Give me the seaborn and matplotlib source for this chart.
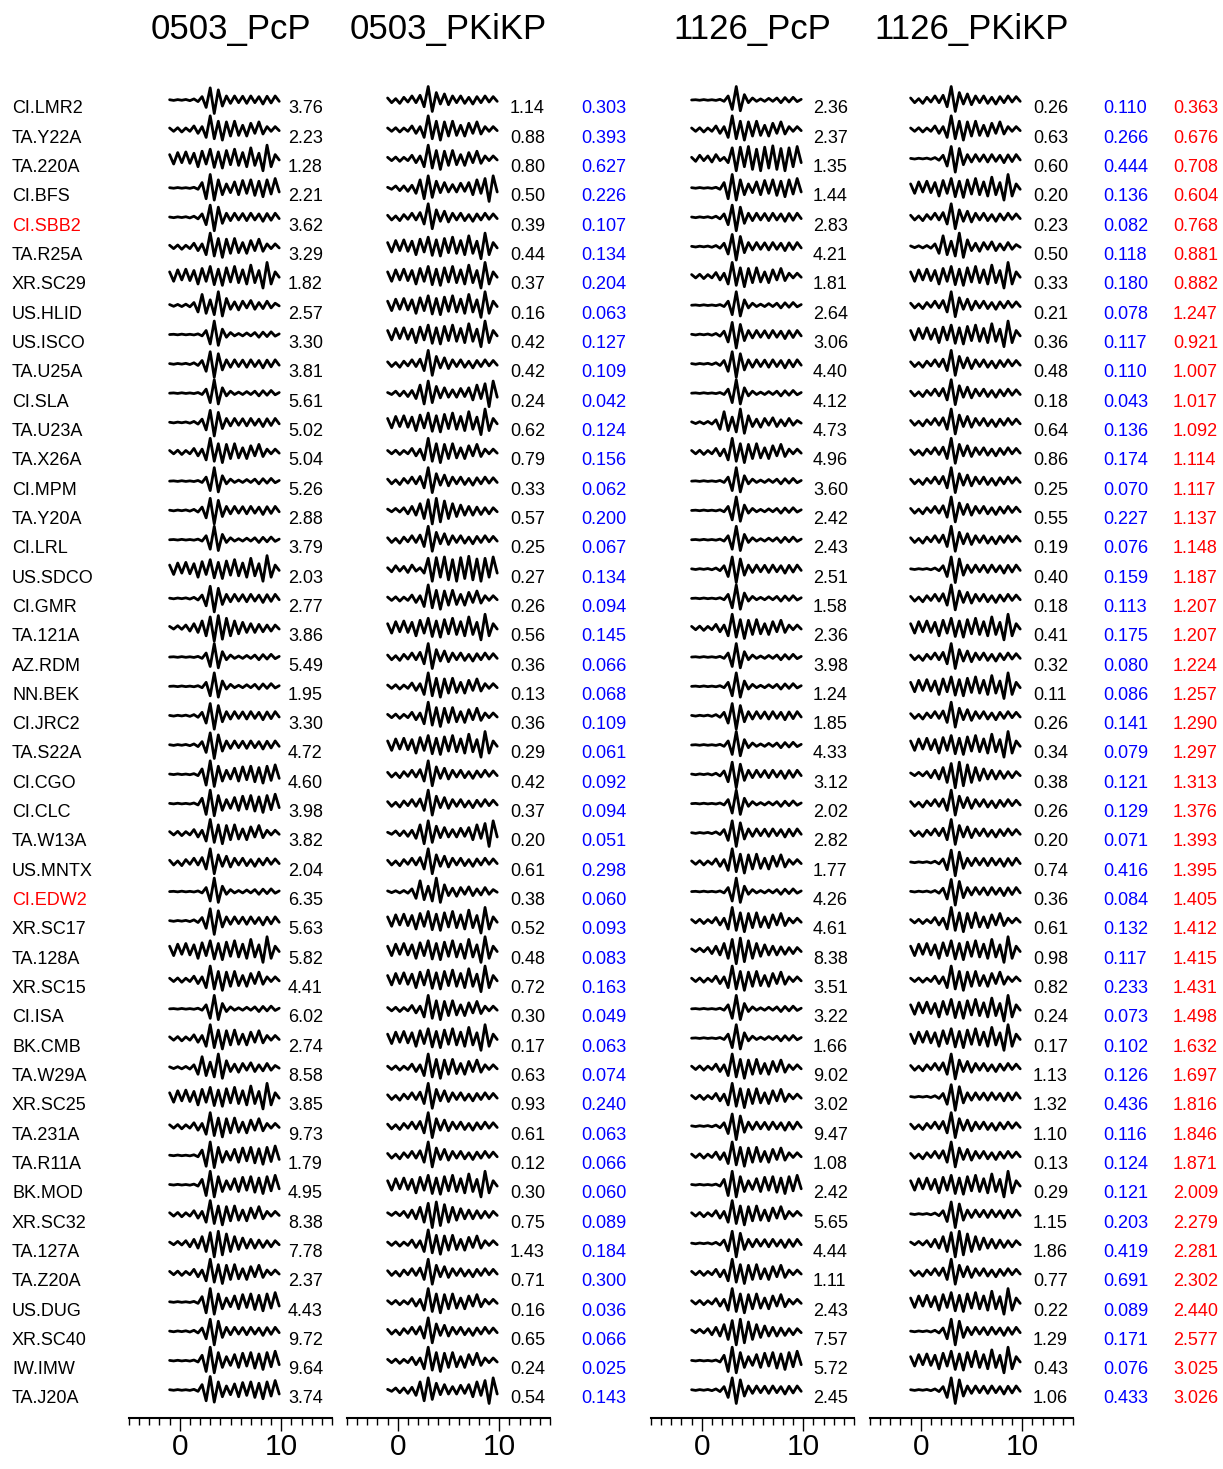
import numpy as np
import pandas as pd
import matplotlib
matplotlib.use("Agg")
import matplotlib.pyplot as plt
import matplotlib.transforms as mtransforms
from matplotlib.ticker import MultipleLocator, FixedLocator
import seaborn as sns

# ---------------------------------------------------------------- data
stations = [
    "CI.LMR2", "TA.Y22A", "TA.220A", "CI.BFS", "CI.SBB2", "TA.R25A", "XR.SC29",
    "US.HLID", "US.ISCO", "TA.U25A", "CI.SLA", "TA.U23A", "TA.X26A", "CI.MPM",
    "TA.Y20A", "CI.LRL", "US.SDCO", "CI.GMR", "TA.121A", "AZ.RDM", "NN.BEK",
    "CI.JRC2", "TA.S22A", "CI.CGO", "CI.CLC", "TA.W13A", "US.MNTX", "CI.EDW2",
    "XR.SC17", "TA.128A", "XR.SC15", "CI.ISA", "BK.CMB", "TA.W29A", "XR.SC25",
    "TA.231A", "TA.R11A", "BK.MOD", "XR.SC32", "TA.127A", "TA.Z20A", "US.DUG",
    "XR.SC40", "IW.IMW", "TA.J20A",
]
highlighted = ["CI.SBB2", "CI.EDW2"]

pcp_0503 = [3.76, 2.23, 1.28, 2.21, 3.62, 3.29, 1.82, 2.57, 3.30, 3.81, 5.61, 5.02,
            5.04, 5.26, 2.88, 3.79, 2.03, 2.77, 3.86, 5.49, 1.95, 3.30, 4.72, 4.60,
            3.98, 3.82, 2.04, 6.35, 5.63, 5.82, 4.41, 6.02, 2.74, 8.58, 3.85, 9.73,
            1.79, 4.95, 8.38, 7.78, 2.37, 4.43, 9.72, 9.64, 3.74]
pkikp_0503 = [1.14, 0.88, 0.80, 0.50, 0.39, 0.44, 0.37, 0.16, 0.42, 0.42, 0.24, 0.62,
              0.79, 0.33, 0.57, 0.25, 0.27, 0.26, 0.56, 0.36, 0.13, 0.36, 0.29, 0.42,
              0.37, 0.20, 0.61, 0.38, 0.52, 0.48, 0.72, 0.30, 0.17, 0.63, 0.93, 0.61,
              0.12, 0.30, 0.75, 1.43, 0.71, 0.16, 0.65, 0.24, 0.54]
ratio_0503 = [0.303, 0.393, 0.627, 0.226, 0.107, 0.134, 0.204, 0.063, 0.127, 0.109,
              0.042, 0.124, 0.156, 0.062, 0.200, 0.067, 0.134, 0.094, 0.145, 0.066,
              0.068, 0.109, 0.061, 0.092, 0.094, 0.051, 0.298, 0.060, 0.093, 0.083,
              0.163, 0.049, 0.063, 0.074, 0.240, 0.063, 0.066, 0.060, 0.089, 0.184,
              0.300, 0.036, 0.066, 0.025, 0.143]
pcp_1126 = [2.36, 2.37, 1.35, 1.44, 2.83, 4.21, 1.81, 2.64, 3.06, 4.40, 4.12, 4.73,
            4.96, 3.60, 2.42, 2.43, 2.51, 1.58, 2.36, 3.98, 1.24, 1.85, 4.33, 3.12,
            2.02, 2.82, 1.77, 4.26, 4.61, 8.38, 3.51, 3.22, 1.66, 9.02, 3.02, 9.47,
            1.08, 2.42, 5.65, 4.44, 1.11, 2.43, 7.57, 5.72, 2.45]
pkikp_1126 = [0.26, 0.63, 0.60, 0.20, 0.23, 0.50, 0.33, 0.21, 0.36, 0.48, 0.18, 0.64,
              0.86, 0.25, 0.55, 0.19, 0.40, 0.18, 0.41, 0.32, 0.11, 0.26, 0.34, 0.38,
              0.26, 0.20, 0.74, 0.36, 0.61, 0.98, 0.82, 0.24, 0.17, 1.13, 1.32, 1.10,
              0.13, 0.29, 1.15, 1.86, 0.77, 0.22, 1.29, 0.43, 1.06]
ratio_1126 = [0.110, 0.266, 0.444, 0.136, 0.082, 0.118, 0.180, 0.078, 0.117, 0.110,
              0.043, 0.136, 0.174, 0.070, 0.227, 0.076, 0.159, 0.113, 0.175, 0.080,
              0.086, 0.141, 0.079, 0.121, 0.129, 0.071, 0.416, 0.084, 0.132, 0.117,
              0.233, 0.073, 0.102, 0.126, 0.436, 0.116, 0.124, 0.121, 0.203, 0.419,
              0.691, 0.089, 0.171, 0.076, 0.433]
ratio_change = [0.363, 0.676, 0.708, 0.604, 0.768, 0.881, 0.882, 1.247, 0.921, 1.007,
                1.017, 1.092, 1.114, 1.117, 1.137, 1.148, 1.187, 1.207, 1.207, 1.224,
                1.257, 1.290, 1.297, 1.313, 1.376, 1.393, 1.395, 1.405, 1.412, 1.415,
                1.431, 1.498, 1.632, 1.697, 1.816, 1.846, 1.871, 2.009, 2.279, 2.281,
                2.302, 2.440, 2.577, 3.025, 3.026]

panel_titles = ["0503_PcP", "0503_PKiKP", "1126_PcP", "1126_PKiKP"]

# Normalised waveform shapes: successive samples every 0.4 s starting at -1.0 s
wave_start = -1.0
wave_step = 0.4
wave_A = [0.02, -0.03, 0.03, -0.02, 0.04, -0.05, 0.08, -0.12, 0.25, -0.55, 0.9, -1.0, 0.75, -0.45,
          0.3, -0.25, 0.3, -0.2, 0.28, -0.25, 0.3, -0.2, 0.25, -0.3, 0.28, -0.22, 0.3, -0.1]
wave_B = [0.1, -0.15, 0.12, -0.2, 0.1, -0.15, 0.25, -0.3, 0.2, -0.6, 1.0, -0.7, 0.6, -0.8,
          0.55, -0.5, 0.6, -0.45, 0.3, -0.5, 0.45, -0.3, 0.55, -0.35, 0.2, -0.15, 0.2, -0.1]
wave_C = [0.3, -0.4, 0.45, -0.3, 0.5, -0.35, 0.4, -0.6, 0.55, -0.4, 0.7, -0.65, 0.5, -0.7,
          0.6, -0.45, 0.7, -0.5, 0.45, -0.6, 0.8, -0.5, 0.4, -0.9, 1.0, -0.6, 0.3, -0.1]
wave_D = [0.05, -0.1, 0.15, -0.2, 0.15, -0.25, 0.2, -0.4, 0.6, -0.8, 0.9, -0.7, 0.5, -0.35,
          0.4, -0.3, 0.25, -0.3, 0.35, -0.25, 0.4, -0.5, 0.6, -0.4, 0.7, -1.0, 0.9, -0.3]
wave_E = [0.1, -0.2, 0.25, -0.15, 0.2, -0.25, 0.3, -0.15, 0.1, -0.3, 0.8, -0.9, 0.85, -0.6,
          0.9, -0.8, 0.7, -0.9, 0.85, -0.7, 0.95, -0.8, 0.75, -0.9, 0.8, -0.6, 0.9, -0.3]
wave_F = [0.0, 0.02, -0.02, 0.03, -0.02, 0.02, -0.03, 0.05, -0.1, 0.3, -0.7, 1.0, -0.8, 0.4,
          -0.2, 0.15, -0.1, 0.08, -0.1, 0.12, -0.1, 0.15, -0.2, 0.18, -0.15, 0.2, -0.12, 0.05]
wave_G = [0.02, -0.02, 0.03, -0.02, 0.02, -0.03, 0.05, -0.1, 0.4, -0.8, 1.0, -0.9, 0.6, -0.5,
          0.3, -0.35, 0.45, -0.5, 0.55, -0.4, 0.6, -0.55, 0.5, -0.65, 0.6, -0.45, 0.7, -0.3]
wave_H = [0.15, -0.2, 0.1, -0.25, 0.2, -0.15, 0.3, -0.2, 0.35, -0.5, 1.0, -0.85, 0.55, -0.3,
          0.45, -0.35, 0.3, -0.2, 0.3, -0.25, 0.2, -0.3, 0.25, -0.2, 0.3, -0.15, 0.25, -0.1]
wave_I = [0.05, -0.08, 0.06, -0.1, 0.08, -0.12, 0.2, -0.5, 0.8, -0.6, 0.4, -0.7, 1.0, -0.8,
          0.5, -0.3, 0.25, -0.35, 0.3, -0.2, 0.35, -0.3, 0.2, -0.25, 0.3, -0.2, 0.15, -0.05]
wave_J = [0.1, -0.1, 0.15, -0.12, 0.2, -0.25, 0.3, -0.35, 0.5, -0.6, 0.8, -1.0, 0.9, -0.85,
          0.7, -0.6, 0.5, -0.45, 0.4, -0.35, 0.3, -0.35, 0.25, -0.3, 0.2, -0.25, 0.2, -0.1]
wave_shapes = {"A": wave_A, "B": wave_B, "C": wave_C, "D": wave_D, "E": wave_E,
               "F": wave_F, "G": wave_G, "H": wave_H, "I": wave_I, "J": wave_J}

# shape used for each station, one string per panel
shapes_0503_pcp = "ABCGABCIFAFABFAFCAJFFAAGGBHFACBFBICBGGBJBGAGG"
shapes_0503_pkikp = "HBBDHCCCCHDCBHJHEBCHBBCHHDHICCCBCBHHHCJBHBHBD"
shapes_1126_pcp = "FBEGAABFAAFIBFFFAFBFFAFAFABFBJBFFBBABGBABBJGA"
shapes_1126_pkikp = "HBACHICHCHHHHHHHAHCHCHCJHHAABCBCCHAHHCAJHCACA"
panel_shapes = [shapes_0503_pcp, shapes_0503_pkikp, shapes_1126_pcp, shapes_1126_pkikp]

# ---------------------------------------------------------------- layout
W, H = 1223, 1469
n = len(stations)
amp = 0.46          # half-height of a normalised trace, in row units

sns.set_theme(style="ticks")
plt.rcParams["font.family"] = ["Liberation Sans", "DejaVu Sans"]
plt.rcParams["text.color"] = "black"
plt.rcParams["xtick.color"] = "black"
plt.rcParams["xtick.labelcolor"] = "black"

fig = plt.figure(figsize=(W / 100, H / 100), dpi=100)
ax_left_px = [129, 347, 651, 870]
ax_w_px = 203
ax_top_px, ax_bot_px = 77, 1418
row0_px, row_last_px = 100, 1390
row_h = (row_last_px - row0_px) / (n - 1)
y_top = (row0_px - ax_top_px) / row_h
y_bot = -(n - 1) - (ax_bot_px - row_last_px) / row_h

axes = []
for k, left in enumerate(ax_left_px):
    ax = fig.add_axes([left / W, 1 - ax_bot_px / H, ax_w_px / W, (ax_bot_px - ax_top_px) / H])
    axes.append(ax)

    rows = []
    for i, code in enumerate(panel_shapes[k]):
        for j, v in enumerate(wave_shapes[code]):
            rows.append({"trace": i, "t": wave_start + j * wave_step, "y": -i + amp * v})
    df = pd.DataFrame(rows)
    sns.lineplot(data=df, x="t", y="y", units="trace", estimator=None, sort=False,
                 color="black", lw=2.0, ax=ax, solid_joinstyle="round",
                 solid_capstyle="round")

    ax.set_xlim(-5, 15)
    ax.set_ylim(y_bot, y_top)
    ax.set_xlabel("")
    ax.set_ylabel("")
    ax.set_yticks([])
    ax.xaxis.set_major_locator(FixedLocator([0, 10]))
    ax.xaxis.set_minor_locator(MultipleLocator(1))
    ax.tick_params(axis="x", which="major", direction="out", length=9.5, width=1.0,
                   labelsize=21.5, pad=1.5, color="black", labelcolor="black")
    ax.tick_params(axis="x", which="minor", direction="out", length=5, width=1.0,
                   color="black")
    sns.despine(ax=ax, left=True, top=True, right=True)
    ax.spines["bottom"].set_linewidth(1.5)
    ax.spines["bottom"].set_color("black")
    ax.patch.set_alpha(0)

    cx = (left + ax_w_px / 2) / W
    fig.text(cx, 1 - 30 / H, panel_titles[k], ha="center", va="center", fontsize=25,
             color="black")

# ---------------------------------------------------------------- labels
trans = mtransforms.blended_transform_factory(fig.transFigure, axes[0].transData)
text_dy = 0.46
columns = [
    (288, pcp_0503, "black", "{:.2f}"),
    (510, pkikp_0503, "black", "{:.2f}"),
    (581, ratio_0503, "blue", "{:.3f}"),
    (813, pcp_1126, "black", "{:.2f}"),
    (1033, pkikp_1126, "black", "{:.2f}"),
    (1103, ratio_1126, "blue", "{:.3f}"),
    (1173, ratio_change, "red", "{:.3f}"),
]
for i, name in enumerate(stations):
    y = -i - text_dy
    fig.text(12 / W, y, name, transform=trans, ha="left", va="baseline", fontsize=13,
             color="red" if name in highlighted else "black")
    for px, vals, col, fmt in columns:
        fig.text(px / W, y, fmt.format(vals[i]), transform=trans, ha="left",
                 va="baseline", fontsize=13, color=col)

fig.savefig("out.png", dpi=100)
